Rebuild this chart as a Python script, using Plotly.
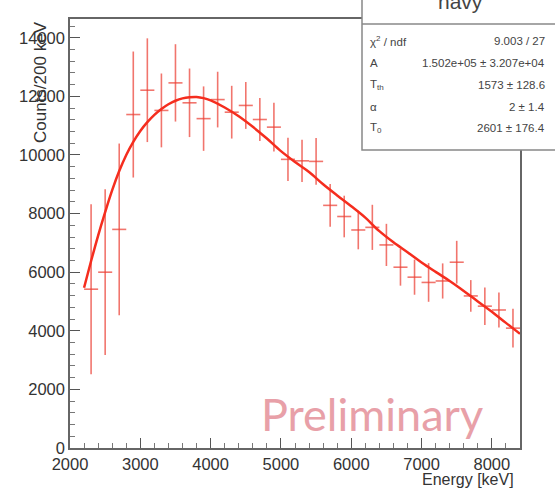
import plotly.graph_objects as go

# ---- data ----
energy = [2300, 2500, 2700, 2900, 3100, 3300, 3500, 3700, 3900, 4100, 4300,
          4500, 4700, 4900, 5100, 5300, 5500, 5700, 5900, 6100, 6300, 6500,
          6700, 6900, 7100, 7300, 7500, 7700, 7900, 8100, 8300]
counts = [5420, 6000, 7460, 11380, 12210, 11520, 12460, 11780, 11240, 11890,
          11460, 11690, 11210, 10950, 9850, 9800, 9780, 8280, 7900, 7440, 7530,
          6930, 6170, 5830, 5650, 5700, 6340, 5190, 4840, 4710, 4090]
count_err = [2900, 2830, 2930, 2150, 1770, 1260, 1320, 1170, 1100, 950, 900,
             800, 730, 830, 740, 720, 800, 730, 710, 660, 770, 720, 630, 600,
             660, 600, 730, 540, 640, 600, 660]
bin_half = [100] * len(energy)

fit_E = [2200, 2300, 2400, 2500, 2600, 2700, 2800, 2900, 3000, 3100, 3200,
         3300, 3400, 3500, 3600, 3700, 3800, 3900, 4000, 4200, 4400, 4600,
         4800, 5000, 5200, 5400, 5600, 5800, 6000, 6200, 6400, 6600, 6800,
         7000, 7200, 7400, 7600, 7800, 8000, 8200, 8400]
fit_val = [5470, 6380, 7250, 8050, 8800, 9450, 10000, 10450, 10820, 11120,
           11370, 11570, 11730, 11850, 11930, 11970, 11980, 11940, 11860,
           11620, 11320, 10960, 10560, 10130, 9760, 9420, 9000, 8620, 8250,
           7860, 7400, 7020, 6680, 6330, 6010, 5700, 5360, 5000, 4650, 4270,
           3900]

stat_labels = ["χ<sup>2</sup> / ndf", "A", "T<sub>th</sub>", "α", "T<sub>0</sub>"]
stat_values = ["9.003 / 27", "1.502e+05 ± 3.207e+04", "1573 ± 128.6",
               "2 ± 1.4", "2601 ± 176.4"]

W, H = 555, 489
ML, MR, MT, MB = 70, 35, 19, 41
PW, PH = W - ML - MR, H - MT - MB


def px(x):
    return (x - ML) / PW


def py(y):
    return (H - MB - y) / PH


fig = go.Figure()
fig.add_trace(go.Scatter(
    x=energy, y=counts, mode="markers",
    marker=dict(size=1, color="rgba(236,70,60,0.0)"),
    error_y=dict(type="data", array=count_err, color="rgba(236,64,52,0.72)",
                 thickness=1.6, width=0),
    error_x=dict(type="data", array=bin_half, color="rgba(236,64,52,0.72)",
                 thickness=1.6, width=0),
    showlegend=False, hoverinfo="skip"))
fig.add_trace(go.Scatter(
    x=fit_E, y=fit_val, mode="lines", line=dict(color="#f52d1e", width=2.5,
                                                 shape="spline"),
    showlegend=False, hoverinfo="skip"))

axis_font = dict(family="Liberation Sans, Arial, sans-serif", size=16.5,
                 color="#333")
fig.update_xaxes(range=[2000, 8400], dtick=1000, tick0=2000, ticks="inside",
                 ticklen=10, tickwidth=1, tickcolor="#555",
                 minor=dict(ticks="inside", ticklen=5, dtick=200,
                            tickcolor="#777"),
                 showline=True, linecolor="#666", linewidth=1.5, mirror=True,
                 showgrid=False, zeroline=False, tickfont=axis_font,
                 tickformat="d")
fig.update_yaxes(range=[0, 14640], dtick=2000, tick0=0, ticks="inside",
                 ticklen=10, tickwidth=1, tickcolor="#555",
                 minor=dict(ticks="inside", ticklen=5, dtick=400,
                            tickcolor="#777"),
                 showline=True, linecolor="#666", linewidth=1.5, mirror=True,
                 showgrid=False, zeroline=False, tickfont=axis_font,
                 ticklabelstandoff=0, tickformat="d")

shapes = [
    dict(type="rect", xref="paper", yref="paper", x0=px(362), x1=px(570),
         y0=py(150), y1=py(-10), line=dict(color="#888", width=1.5),
         fillcolor="white", layer="above"),
    dict(type="line", xref="paper", yref="paper", x0=px(362), x1=px(570),
         y0=py(24), y1=py(24), line=dict(color="#888", width=1.5),
         layer="above"),
]

stat_font = dict(family="Liberation Sans, Arial, sans-serif", size=11.5,
                 color="#444")
annotations = [
    dict(text="navy", xref="paper", yref="paper", x=px(460), y=py(1),
         xanchor="center", yanchor="middle", showarrow=False,
         font=dict(family="Liberation Sans, Arial, sans-serif", size=21,
                   color="#444")),
    dict(text="Counts/200 keV", xref="paper", yref="paper", x=px(40),
         y=py(19), xanchor="center", yanchor="top", textangle=-90,
         showarrow=False, font=dict(family="Liberation Sans, Arial, sans-serif",
                                    size=17, color="#333")),
    dict(text="Energy [keV]", xref="paper", yref="paper", x=px(516),
         y=py(480), xanchor="right", yanchor="middle", showarrow=False,
         font=dict(family="Liberation Sans, Arial, sans-serif", size=16,
                   color="#333")),
    dict(text="Preliminary", xref="paper", yref="paper", x=px(259),
         y=py(414), xanchor="left", yanchor="middle", showarrow=False,
         font=dict(family="Lato, sans-serif", size=45, color="#e8a0a8")),
]
row_y = [41.5, 63, 85, 106.5, 128]
for lab, val, yy in zip(stat_labels, stat_values, row_y):
    annotations.append(dict(text=lab, xref="paper", yref="paper", x=px(368),
                            y=py(yy), xanchor="left", yanchor="middle",
                            showarrow=False, font=stat_font))
    annotations.append(dict(text=val, xref="paper", yref="paper", x=px(547),
                            y=py(yy), xanchor="right", yanchor="middle",
                            showarrow=False, font=stat_font))

fig.update_layout(width=W, height=H, margin=dict(l=ML, r=MR, t=MT, b=MB),
                  paper_bgcolor="white", plot_bgcolor="white",
                  shapes=shapes, annotations=annotations, showlegend=False)
fig.write_html("out.html")
